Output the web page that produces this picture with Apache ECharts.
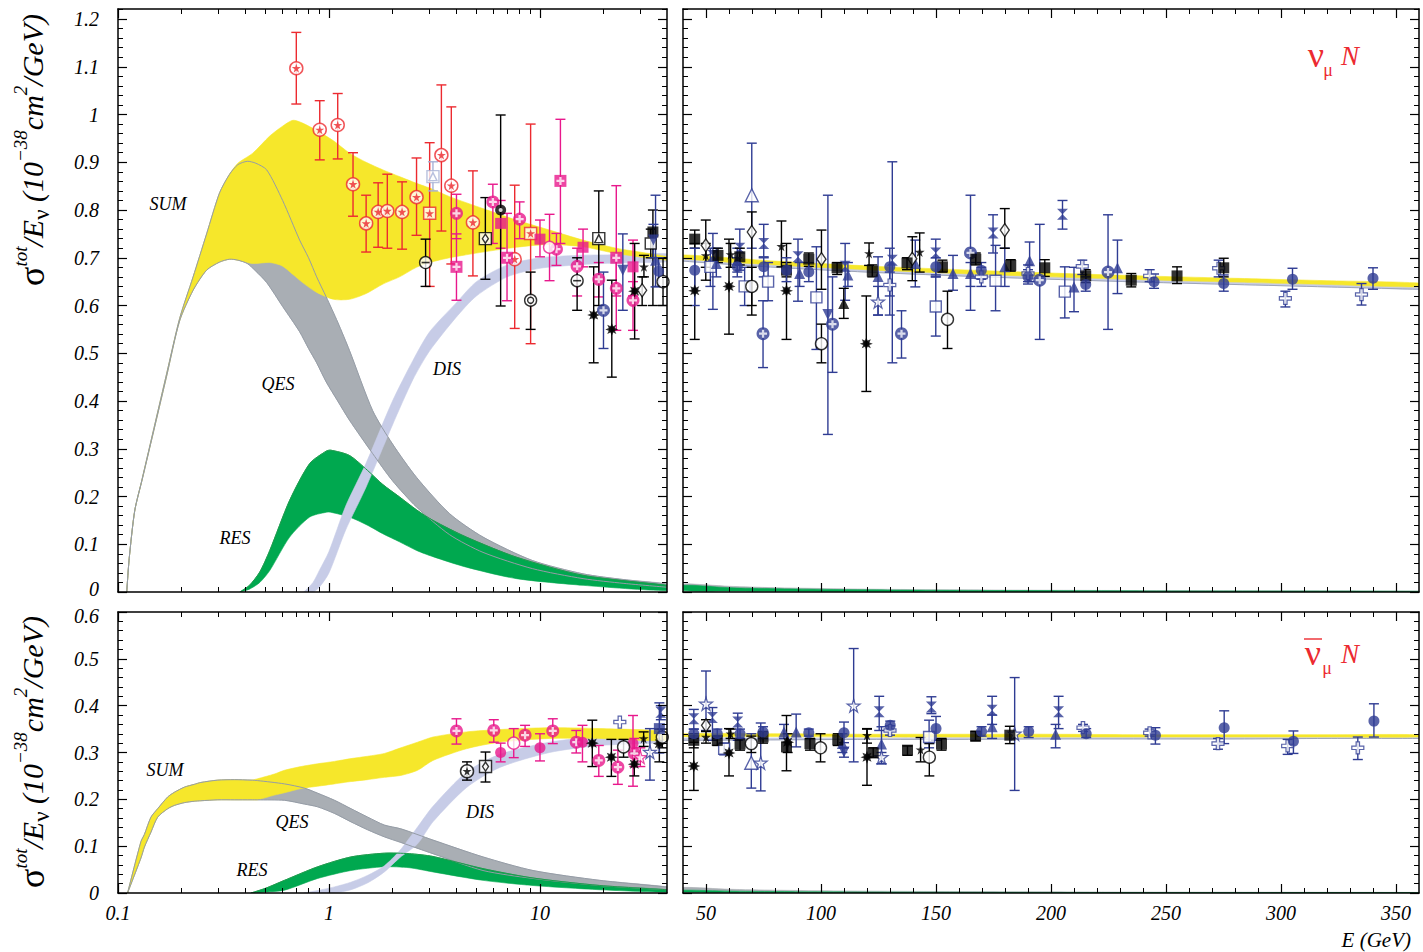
<!DOCTYPE html>
<html><head><meta charset="utf-8">
<script src="https://cdn.jsdelivr.net/npm/echarts@6/dist/echarts.min.js"></script>
<style>html,body{margin:0;padding:0;background:#fff}#c{width:1423px;height:952px}</style>
</head><body><div id="c"></div>
<script>
// ---------------- tick values ----------------
const logMajor = [0.1, 1, 10];
const logMinor = [0.2,0.3,0.4,0.5,0.6,0.7,0.8,0.9,2,3,4,5,6,7,8,9,20,30];
const linMajor = [50,100,150,200,250,300,350];
const linMinor = [60,70,80,90,110,120,130,140,160,170,180,190,210,220,230,240,260,270,280,290,310,320,330,340];
const yTopMajor = [0,0.1,0.2,0.3,0.4,0.5,0.6,0.7,0.8,0.9,1,1.1,1.2];
const yBotMajor = [0,0.1,0.2,0.3,0.4,0.5,0.6];
const yTopMinor = []; for (let i = 1; i <= 61; i++) if (i % 5) yTopMinor.push(+(i*0.02).toFixed(2));
const yBotMinor = []; for (let i = 1; i <= 29; i++) if (i % 5) yBotMinor.push(+(i*0.02).toFixed(2));

// ---------------- theory bands: neutrino, low energy (log axis) ----------------
const qesNuE  = [0.11,0.113,0.12,0.13,0.15,0.17,0.196,0.227,0.263,0.303,0.338,0.37,0.41,0.45,0.507,0.603,0.726,0.8,0.874,0.97,1.1,1.25,1.61,2.0,2.6,3.73,5.37,9.2,16,25,40];
const qesNuHi = [0,0.07,0.17,0.236,0.354,0.457,0.573,0.66,0.75,0.836,0.875,0.895,0.902,0.898,0.884,0.82,0.737,0.70,0.66,0.618,0.565,0.506,0.38,0.31,0.24,0.164,0.115,0.066,0.038,0.026,0.017];
const qesNuLo = [0,0.07,0.17,0.234,0.35,0.452,0.568,0.632,0.674,0.691,0.697,0.695,0.688,0.672,0.648,0.598,0.545,0.51,0.48,0.44,0.40,0.36,0.29,0.233,0.178,0.12,0.083,0.049,0.028,0.018,0.010];
const sumNuE  = [0.11,0.113,0.12,0.13,0.15,0.17,0.196,0.227,0.263,0.303,0.338,0.37,0.435,0.524,0.6,0.675,0.75,0.871,1.05,1.253,1.5,1.803,2.16,2.596,3.0,3.73,5.37,7.73,11.1,16,23,40];
const sumNuHi = [0,0.07,0.17,0.236,0.354,0.457,0.573,0.66,0.75,0.836,0.875,0.898,0.919,0.955,0.975,0.988,0.982,0.967,0.945,0.919,0.90,0.884,0.87,0.856,0.846,0.828,0.803,0.779,0.758,0.737,0.72,0.702];
const sumNuLo = [0,0.07,0.17,0.234,0.35,0.452,0.568,0.632,0.674,0.691,0.697,0.695,0.688,0.69,0.683,0.665,0.648,0.628,0.613,0.613,0.625,0.645,0.66,0.68,0.69,0.70,0.712,0.722,0.728,0.723,0.709,0.695];
const resNuE  = [0.378,0.42,0.47,0.524,0.651,0.81,0.97,1.02,1.25,1.52,1.8,2.16,2.6,3.11,4.48,7.73,16,40];
const resNuHi = [0,0.014,0.042,0.087,0.192,0.269,0.295,0.297,0.286,0.255,0.225,0.199,0.172,0.15,0.115,0.073,0.035,0.014];
const resNuLo = [0,0.006,0.02,0.045,0.115,0.157,0.167,0.167,0.157,0.14,0.122,0.105,0.087,0.074,0.052,0.028,0.014,0.003];
const disNuE  = [0.76,0.84,0.9,1.0,1.2,1.5,2.0,2.5,3.0,4.0,5.0,7.0,10,15,20,30,40];
const disNuHi = [0,0.02,0.045,0.085,0.18,0.27,0.40,0.485,0.545,0.605,0.65,0.685,0.70,0.705,0.706,0.707,0.708];
const disNuLo = [0,0,0.01,0.04,0.13,0.22,0.35,0.445,0.505,0.575,0.62,0.66,0.678,0.685,0.688,0.69,0.692];

// ---------------- theory bands: antineutrino, low energy ----------------
const qesAnE  = [0.111,0.1285,0.1334,0.1433,0.1542,0.172,0.185,0.2064,0.23,0.247,0.297,0.356,0.427,0.459,0.615,0.764,0.884,1.061,1.271,1.525,1.83,2.19,3.11,5.37,9.27,19.2,40];
const qesAnHi = [0,0.11,0.125,0.162,0.18,0.205,0.215,0.226,0.232,0.236,0.241,0.242,0.241,0.24,0.233,0.224,0.213,0.198,0.18,0.162,0.145,0.137,0.113,0.077,0.048,0.027,0.013];
const qesAnLo = [0,0.075,0.098,0.13,0.162,0.18,0.187,0.193,0.196,0.197,0.199,0.199,0.199,0.199,0.198,0.19,0.184,0.17,0.152,0.135,0.12,0.108,0.084,0.048,0.031,0.016,0.007];
const sumAnE  = [0.111,0.1285,0.1334,0.1433,0.1542,0.172,0.185,0.2064,0.23,0.247,0.297,0.356,0.427,0.459,0.551,0.615,0.737,0.884,1.061,1.271,1.525,1.83,2.19,2.63,3.11,4.48,6.44,11.1,19.2,40];
const sumAnHi = [0,0.11,0.125,0.162,0.18,0.205,0.215,0.226,0.232,0.236,0.241,0.242,0.241,0.244,0.254,0.262,0.27,0.276,0.281,0.287,0.292,0.298,0.31,0.322,0.333,0.344,0.349,0.353,0.351,0.344];
const sumAnLo = [0,0.075,0.098,0.13,0.162,0.18,0.187,0.193,0.196,0.197,0.199,0.199,0.199,0.199,0.209,0.214,0.223,0.228,0.233,0.238,0.242,0.247,0.251,0.262,0.283,0.308,0.322,0.33,0.33,0.326];
const resAnE  = [0.427,0.5,0.615,0.884,1.271,1.83,2.4,3.11,5.37,9.27,19.2,40];
const resAnHi = [0,0.01,0.027,0.056,0.077,0.085,0.084,0.078,0.052,0.032,0.016,0.007];
const resAnLo = [0,0.002,0.006,0.031,0.048,0.056,0.054,0.045,0.027,0.016,0.007,0.002];
const disAnE  = [0.76,0.9,1.06,1.27,1.53,1.83,2.16,2.63,3.11,4.48,6.44,11.1,19.2,40];
const disAnHi = [0,0.006,0.013,0.023,0.038,0.058,0.09,0.141,0.185,0.258,0.296,0.322,0.334,0.34];
const disAnLo = [0,0,0,0.007,0.022,0.045,0.075,0.105,0.152,0.225,0.268,0.3,0.315,0.323];

// ---------------- theory bands: high energy (linear axis) ----------------
const hiE  = [40,80,120,160,200,240,280,320,360];
const sumNuRHi = [0.706,0.693,0.683,0.675,0.668,0.662,0.657,0.652,0.647];
const sumNuRLo = [0.698,0.685,0.675,0.667,0.660,0.654,0.649,0.644,0.639];
const disNuRHi = [0.699,0.686,0.676,0.668,0.661,0.655,0.650,0.645,0.640];
const disNuRLo = [0.693,0.680,0.670,0.662,0.655,0.649,0.644,0.639,0.634];
const sumAnRHi = [0.340,0.340,0.339,0.339,0.339,0.338,0.338,0.338,0.338];
const sumAnRLo = [0.334,0.334,0.333,0.333,0.333,0.333,0.333,0.333,0.333];
const disAnRHi = [0.331,0.331,0.331,0.332,0.332,0.332,0.332,0.332,0.332];
const disAnRLo = [0.326,0.327,0.328,0.328,0.329,0.329,0.329,0.330,0.330];
const tailE = [40,60,80,120,160,240,360];
const qesNuRHi = [0.017,0.012,0.009,0.006,0.0045,0.003,0.002];
const qesNuRLo = [0.010,0.007,0.005,0.0033,0.0025,0.0016,0.001];
const resNuRHi = [0.014,0.009,0.007,0.0045,0.0034,0.0022,0.0015];
const resNuRLo = [0.003,0.002,0.0015,0.001,0.0007,0.0005,0.0003];
const qesAnRHi = [0.012,0.008,0.006,0.004,0.003,0.002,0.0013];
const qesAnRLo = [0.006,0.004,0.003,0.002,0.0015,0.001,0.0006];
const resAnRHi = [0.006,0.004,0.003,0.002,0.0015,0.001,0.0006];
const resAnRLo = [0.002,0.0013,0.001,0.0007,0.0005,0.0003,0.0002];

// ---------------- measurements [E, value, low, high] ----------------
// neutrino, low E
const nuLoRedCircStar = [[0.70,1.097,1.022,1.172],[0.904,0.968,0.905,1.029],[1.10,0.978,0.907,1.044],[1.30,0.854,0.787,0.92],[1.50,0.772,0.712,0.831],[1.71,0.796,0.722,0.857],[1.89,0.798,0.72,0.875],[2.22,0.796,0.718,0.859],[2.60,0.827,0.747,0.909],[3.41,0.915,0.756,1.062],[3.80,0.851,0.687,1.016],[4.81,0.774,0.662,0.882],[7.59,0.697,0.552,0.852]];
const nuLoRedSqStar = [[3.0,0.793,0.64,0.941],[9.03,0.751,0.52,0.98]];
const nuLoPinkCircCross = [[4.02,0.793,0.74,0.833],[5.98,0.817,0.73,0.854],[8.01,0.781,0.74,0.817],[11.97,0.718,0.684,0.751],[15.0,0.682,0.62,0.72],[19.0,0.655,0.618,0.69],[23.0,0.636,0.548,0.70],[27.6,0.611,0.548,0.65]];
const nuLoPinkSqCross = [[4.02,0.681,0.611,0.75],[6.98,0.70,0.61,0.793],[12.5,0.861,0.73,0.99],[23.0,0.70,0.62,0.851]];
const nuLoPinkFilled = [[6.51,0.772,0.72,0.82],[10.0,0.739,0.702,0.779],[16.0,0.722,0.681,0.76],[27.6,0.681,0.62,0.737]];
const nuLoPinkOpenCirc = [[11.1,0.722,0.652,0.791]];
const nuLoBlackCircMinus = [[2.87,0.69,0.64,0.739],[15.0,0.652,0.59,0.70]];
const nuLoBlackSqDia = [[5.51,0.74,0.655,0.826]];
const nuLoBlackCircDot = [[6.51,0.80,0.599,0.999]];
const nuLoBlackDblCirc = [[9.03,0.611,0.55,0.67]];
const nuLoBlackTriSq = [[19.0,0.74,0.60,0.84]];
const nuLoBlackAst = [[17.97,0.58,0.48,0.681],[21.9,0.55,0.45,0.653],[28.1,0.63,0.53,0.73]];
const nuLoBlackOpenDia = [[30.5,0.632,0.6,0.66]];
const nuLoBlackStar = [[31.1,0.681,0.66,0.705]];
const nuLoBlackFilledSq = [[34.3,0.754,0.60,0.80]];
const nuLoBlackOpenSq = [[33.5,0.73,0.70,0.76]];
const nuLoBlackOpenCirc = [[38.3,0.65,0.6,0.70]];
const nuLoBlueCircCross = [[20.0,0.59,0.51,0.67]];
const nuLoBlueTriDown = [[24.7,0.674,0.59,0.75],[34.5,0.737,0.70,0.77]];
const nuLoBlueTri = [[35.3,0.695,0.639,0.831]];
const nuLoBlueFilledCirc = [[36.5,0.672,0.64,0.70]];
const nuLoSlateSq = [[3.11,0.87,0.84,0.901]];
// neutrino, high E
const nuHiBlackFilledSq = [[45.1,0.739,0.72,0.758],[55.2,0.705,0.69,0.72],[64.7,0.702,0.685,0.72],[85,0.674,0.66,0.69],[94.7,0.697,0.682,0.71],[107,0.679,0.665,0.69],[122.3,0.672,0.66,0.685],[137.4,0.689,0.675,0.70],[152.8,0.681,0.67,0.695],[167.3,0.697,0.685,0.71],[182.5,0.684,0.672,0.696],[197.3,0.679,0.661,0.696],[215.1,0.662,0.648,0.675],[234.9,0.653,0.639,0.667],[254.8,0.662,0.646,0.681],[275.1,0.679,0.66,0.699]];
const nuHiBlackAst = [[45.1,0.631,0.529,0.73],[60,0.64,0.54,0.739],[85,0.631,0.529,0.73],[119.7,0.52,0.42,0.62]];
const nuHiBlackOpenDia = [[49.9,0.726,0.653,0.779],[69.9,0.754,0.58,0.796],[100.2,0.697,0.634,0.758],[139.7,0.698,0.652,0.744],[179.9,0.758,0.72,0.803]];
const nuHiBlackStar = [[49.9,0.705,0.68,0.73],[60.7,0.707,0.68,0.73],[82.8,0.724,0.681,0.777],[120.9,0.709,0.684,0.731],[142.9,0.712,0.67,0.752]];
const nuHiBlackOpenCirc = [[69.9,0.64,0.60,0.68],[100.2,0.52,0.48,0.561],[155,0.571,0.51,0.63]];
const nuHiBlackTri = [[109.9,0.604,0.573,0.636]];
const nuHiBlueFilledCirc = [[45.1,0.674,0.60,0.72],[63.6,0.681,0.66,0.70],[75.1,0.681,0.66,0.70],[85,0.674,0.65,0.70],[94.7,0.67,0.65,0.69],[129.9,0.681,0.58,0.72],[149.9,0.681,0.66,0.70],[169.7,0.674,0.655,0.69],[190,0.66,0.645,0.675],[215.1,0.644,0.63,0.66],[244.8,0.65,0.636,0.666],[275.1,0.646,0.63,0.664],[305,0.655,0.634,0.678],[340,0.657,0.634,0.679]];
const nuHiBlueHour = [[53,0.705,0.592,0.751],[64.7,0.72,0.674,0.76],[75.1,0.73,0.702,0.77],[90,0.702,0.609,0.739],[110.5,0.682,0.611,0.73],[131,0.695,0.48,0.901],[149.9,0.71,0.664,0.739],[174.8,0.752,0.71,0.79],[205,0.791,0.76,0.82]];
const nuHiBlueTri = [[54.5,0.688,0.66,0.72],[63.6,0.695,0.67,0.72],[90.7,0.667,0.64,0.69],[111.7,0.664,0.64,0.69],[124.8,0.661,0.58,0.702],[141,0.688,0.639,0.737],[157.4,0.667,0.632,0.705],[165,0.667,0.64,0.69],[179.9,0.681,0.64,0.72],[190.7,0.694,0.65,0.733],[210,0.639,0.587,0.68],[228.9,0.679,0.625,0.737]];
const nuHiBlueOpenTri = [[69.9,0.831,0.72,0.94]];
const nuHiBlueOpenSq = [[51.9,0.681,0.64,0.72],[66.8,0.64,0.60,0.68],[77,0.65,0.61,0.69],[98,0.617,0.508,0.723],[149.9,0.598,0.536,0.66],[175.9,0.652,0.589,0.726],[206,0.629,0.574,0.681]];
const nuHiBlueCircCross = [[74.8,0.541,0.47,0.61],[105,0.561,0.46,0.66],[135,0.541,0.49,0.589],[165,0.71,0.59,0.831],[195.1,0.653,0.529,0.77],[224.8,0.67,0.55,0.79]];
const nuHiBlueTriDown = [[103,0.581,0.33,0.831]];
const nuHiBlueOpenStar = [[124.8,0.608,0.58,0.64]];
const nuHiBlueOpenCross = [[129.9,0.643,0.62,0.67],[169.7,0.66,0.64,0.68],[190,0.667,0.65,0.685],[213.6,0.682,0.665,0.695],[242.9,0.662,0.65,0.675],[272.9,0.678,0.66,0.695],[301.9,0.615,0.597,0.63],[335,0.623,0.601,0.646]];
// antineutrino, low E
const anLoPinkCircCross = [[4.02,0.346,0.318,0.372],[6.04,0.347,0.322,0.37],[8.5,0.337,0.313,0.358],[11.5,0.346,0.319,0.372],[14.86,0.322,0.299,0.347],[19.0,0.283,0.249,0.315],[23.4,0.269,0.232,0.305],[28,0.298,0.27,0.33]];
const anLoPinkFilled = [[6.51,0.30,0.28,0.32],[10.0,0.31,0.282,0.34],[15.9,0.322,0.28,0.358],[27.6,0.319,0.228,0.379]];
const anLoPinkOpenCirc = [[7.51,0.32,0.289,0.351]];
const anLoPinkOpenStar = [[29.9,0.29,0.27,0.31]];
const anLoBlackCircStar = [[4.51,0.26,0.241,0.28]];
const anLoBlackSqDia = [[5.52,0.27,0.237,0.301]];
const anLoBlackAst = [[17.7,0.32,0.27,0.369],[21.8,0.29,0.249,0.328],[28,0.275,0.25,0.30],[36.8,0.319,0.28,0.35]];
const anLoBlackOpenCirc = [[24.9,0.312,0.29,0.328],[38,0.333,0.31,0.35]];
const anLoBlackStar = [[31,0.33,0.313,0.344]];
const anLoBlueOpenStar = [[33.2,0.301,0.241,0.351]];
const anLoBlueOpenCross = [[23.9,0.365,0.365,0.365]];
const anLoBlueFilledSq = [[36.8,0.351,0.299,0.406]];
const anLoBlueHour = [[37.4,0.386,0.37,0.40]];
// antineutrino, high E
const anHiBlueHour = [[44.7,0.372,0.35,0.392],[52.8,0.375,0.326,0.396],[63.8,0.365,0.326,0.384],[125.3,0.387,0.347,0.42],[148,0.397,0.383,0.419],[174.4,0.39,0.36,0.42],[203.3,0.387,0.351,0.42]];
const anHiBlueFilledCirc = [[44.7,0.34,0.33,0.35],[54.9,0.34,0.33,0.35],[64.8,0.34,0.33,0.35],[74.8,0.344,0.33,0.355],[94.7,0.342,0.335,0.35],[110,0.342,0.321,0.365],[130.1,0.358,0.347,0.367],[150,0.351,0.326,0.377],[169.8,0.345,0.335,0.355],[190.3,0.345,0.332,0.355],[215.3,0.34,0.332,0.351],[245.4,0.337,0.318,0.353],[275.3,0.353,0.319,0.389],[305.4,0.324,0.298,0.346],[340.4,0.367,0.333,0.404]];
const anHiBlackFilledSq = [[44.7,0.326,0.31,0.34],[54.9,0.326,0.315,0.335],[64.8,0.318,0.305,0.33],[74.8,0.333,0.32,0.345],[85,0.312,0.261,0.379],[95.2,0.319,0.305,0.33],[107.3,0.327,0.315,0.34],[122.7,0.299,0.29,0.31],[137.6,0.305,0.294,0.314],[152.4,0.318,0.305,0.33],[167.2,0.335,0.325,0.345],[182.1,0.337,0.319,0.356]];
const anHiBlackAst = [[44.7,0.271,0.219,0.322],[60,0.299,0.25,0.351],[85.5,0.322,0.30,0.34],[120,0.29,0.23,0.351]];
const anHiBlackStar = [[50,0.333,0.32,0.345],[60.7,0.34,0.33,0.35],[120,0.337,0.32,0.35],[143.3,0.306,0.28,0.332]];
const anHiBlackOpenDia = [[50,0.358,0.345,0.37]];
const anHiBlackOpenCirc = [[69.7,0.319,0.30,0.335],[99.8,0.31,0.28,0.34],[147.1,0.29,0.25,0.319]];
const anHiBlueOpenStar = [[50,0.404,0.347,0.474],[73.8,0.278,0.218,0.363],[114.2,0.40,0.28,0.522],[126.3,0.29,0.276,0.30],[184.2,0.34,0.219,0.46]];
const anHiBlueOpenSq = [[57.9,0.308,0.295,0.32],[147,0.333,0.31,0.369]];
const anHiBlueOpenTri = [[69.7,0.278,0.224,0.34]];
const anHiBlueTri = [[83.9,0.344,0.33,0.36],[89.2,0.344,0.312,0.382],[109.3,0.319,0.30,0.34],[126.3,0.318,0.276,0.355],[174.4,0.355,0.33,0.38],[202,0.339,0.31,0.36]];
const anHiBlueTriDown = [[110,0.301,0.29,0.31]];
const anHiBlueOpenCross = [[130,0.347,0.337,0.357],[213.9,0.353,0.345,0.36],[242.9,0.342,0.335,0.35],[272.6,0.319,0.307,0.33],[302.9,0.314,0.296,0.328],[333.4,0.31,0.285,0.333]];

// ---------------- styling ----------------
const FONT = 'Liberation Serif';
const COL = {red:'#ec2a30', pink:'#e8188c', black:'#000000', blue:'#2f3c93', slate:'#a7b1d6'};
const BAND = {sum:'#f6e72b', qes:'#a9aeb4', res:'#00a84f', dis:'#c7cce7'};
const EDGE = {qes:'#959ca6', res:'#1f9a4c'};
const P = {
  star:'path://M50,2 L61,37 L98,37 L68,59 L79,95 L50,73 L21,95 L32,59 L2,37 L39,37 Z',
  plus:'path://M36,0 H64 V36 H100 V64 H64 V100 H36 V64 H0 V36 H36 Z',
  hour:'path://M0,0 H100 L50,50 L100,100 H0 L50,50 Z',
  ast:'path://M50,0 L60,26 L85,15 L74,40 L100,50 L74,60 L85,85 L60,74 L50,100 L40,74 L15,85 L26,60 L0,50 L26,40 L15,15 L40,26 Z'
};
const op = (c, w) => ({color:'#fff', borderColor:c, borderWidth:w || 1.4});
const LAYERS = {
  circStar: c => [{symbol:'circle', symbolSize:13, itemStyle:op(c, 1.5)}, {symbol:P.star, symbolSize:9, itemStyle:{color:c}}],
  sqStar:   c => [{symbol:'rect', symbolSize:12, itemStyle:op(c, 1.5)}, {symbol:P.star, symbolSize:9, itemStyle:{color:c}}],
  circCross:c => [{symbol:'circle', symbolSize:13, itemStyle:{color:c}}, {symbol:P.plus, symbolSize:8, itemStyle:{color:'#fff'}}],
  sqCross:  c => [{symbol:'rect', symbolSize:12, itemStyle:{color:c}}, {symbol:P.plus, symbolSize:8, itemStyle:{color:'#fff'}}],
  fSq:      c => [{symbol:'rect', symbolSize:11, itemStyle:{color:c}}],
  fCirc:    c => [{symbol:'circle', symbolSize:11, itemStyle:{color:c}}],
  oCirc:    c => [{symbol:'circle', symbolSize:12, itemStyle:op(c)}],
  oSq:      c => [{symbol:'rect', symbolSize:11, itemStyle:op(c)}],
  oDia:     c => [{symbol:'diamond', symbolSize:[9,13], itemStyle:op(c)}],
  star:     c => [{symbol:P.star, symbolSize:10, itemStyle:{color:c}}],
  ast:      c => [{symbol:P.ast, symbolSize:13, itemStyle:{color:c}}, {symbol:'circle', symbolSize:6, itemStyle:{color:c}}],
  hour:     c => [{symbol:P.hour, symbolSize:11, itemStyle:{color:c}}],
  tri:      c => [{symbol:'triangle', symbolSize:11, itemStyle:{color:c}}],
  oTri:     c => [{symbol:'triangle', symbolSize:13, itemStyle:op(c)}],
  triDown:  c => [{symbol:'triangle', symbolSize:11, symbolRotate:180, itemStyle:{color:c}}],
  oStar:    c => [{symbol:P.star, symbolSize:13, itemStyle:op(c, 1.2)}],
  oCross:   c => [{symbol:P.plus, symbolSize:12, itemStyle:op(c, 1.2)}],
  circMinus:c => [{symbol:'circle', symbolSize:12, itemStyle:op(c)}, {symbol:'rect', symbolSize:[8,1.6], itemStyle:{color:c}}],
  dblCirc:  c => [{symbol:'circle', symbolSize:12, itemStyle:op(c)}, {symbol:'circle', symbolSize:6, itemStyle:op(c)}],
  sqDia:    c => [{symbol:'rect', symbolSize:12, itemStyle:op(c)}, {symbol:'diamond', symbolSize:[6,9], itemStyle:op(c)}],
  triSq:    c => [{symbol:'rect', symbolSize:12, itemStyle:op(c)}, {symbol:'triangle', symbolSize:8, itemStyle:op(c)}],
  circDot:  c => [{symbol:'circle', symbolSize:11, itemStyle:{color:c}}, {symbol:'circle', symbolSize:4, itemStyle:{color:'#fff'}}]
};

// ---------------- grids & axes ----------------
const GRIDS = [
  {left:118, top:9,   width:549, height:583},
  {left:683, top:9,   width:736, height:583},
  {left:118, top:612, width:549, height:281},
  {left:683, top:612, width:736, height:281}
];
const lineSt = {color:'#000', width:1.5};
const labSt = {fontFamily:FONT, fontStyle:'italic', fontSize:20, color:'#000'};
// rich styles used to nudge the two labels where the top and bottom panels meet
const edgeRich = {
  up:{fontFamily:FONT, fontStyle:'italic', fontSize:20, color:'#000', padding:[0,0,7,0]},
  dn:{fontFamily:FONT, fontStyle:'italic', fontSize:20, color:'#000', padding:[7,0,0,0]}
};
const xAxes = [], yAxes = [], series = [];
GRIDS.forEach((g, gi) => {
  const isLog = gi % 2 === 0, isTop = gi < 2;
  const xr = isLog ? {type:'log', logBase:10, min:0.1, max:40} : {type:'value', min:40, max:360};
  const xMaj = isLog ? logMajor : linMajor, xMin = isLog ? logMinor : linMinor;
  ['bottom','top'].forEach(pos => {
    xAxes.push(Object.assign({gridIndex:gi, position:pos, z:10,
      axisLine:{show:true, onZero:false, lineStyle:lineSt},
      axisTick:{show:true, inside:true, length:9, customValues:xMaj, lineStyle:{color:'#000', width:1.2}},
      axisLabel:Object.assign({show: pos==='bottom' && !isTop, customValues:xMaj, margin:10,
        formatter: v => (v < 1 ? (+v).toFixed(1) : String(Math.round(v)))}, labSt),
      splitLine:{show:false}}, xr));
    xAxes.push(Object.assign({gridIndex:gi, position:pos, z:10,
      axisLine:{show:false, onZero:false},
      axisTick:{show:true, inside:true, length:5, customValues:xMin, lineStyle:{color:'#000', width:1}},
      axisLabel:{show:false}, splitLine:{show:false}}, xr));
  });
  const yr = {type:'value', min:0, max: isTop ? 1.221 : 0.6};
  const yMaj = isTop ? yTopMajor : yBotMajor, yMin = isTop ? yTopMinor : yBotMinor;
  ['left','right'].forEach(pos => {
    yAxes.push(Object.assign({gridIndex:gi, position:pos, z:10,
      axisLine:{show:true, onZero:false, lineStyle:lineSt},
      axisTick:{show:true, inside:true, length:9, customValues:yMaj, lineStyle:{color:'#000', width:1.2}},
      axisLabel:Object.assign({show: pos==='left' && isLog, customValues:yMaj, margin:19, rich:edgeRich,
        formatter: v => {
          const s = String(Math.round(v*10)/10);
          if (isTop && v === 0) return '{up|' + s + '}';
          if (!isTop && Math.abs(v - 0.6) < 1e-9) return '{dn|' + s + '}';
          return s;
        }}, labSt),
      splitLine:{show:false}}, yr));
    yAxes.push(Object.assign({gridIndex:gi, position:pos, z:10,
      axisLine:{show:false, onZero:false},
      axisTick:{show:true, inside:true, length:5, customValues:yMin, lineStyle:{color:'#000', width:1}},
      axisLabel:{show:false}, splitLine:{show:false}}, yr));
  });
});

// ---------------- series builders ----------------
function addBand(gi, E, lo, hi, fill) {
  const pts = E.map((e, i) => [e, lo[i], hi[i]]);
  series.push({type:'custom', xAxisIndex:gi*4, yAxisIndex:gi*4, z:2, silent:true, animation:false, clip:true,
    data:pts, encode:{x:0, y:[1,2]},
    renderItem(params, api) {
      if (params.dataIndex !== 0) return null;
      const up = pts.map(p => api.coord([p[0], p[2]]));
      const dn = pts.map(p => api.coord([p[0], p[1]]));
      const poly = up.concat(dn.slice().reverse());
      return {type:'polygon', shape:{points:poly, smooth:0.25}, style:{fill:fill, stroke:fill, lineWidth:0.6}};
    }});
}
function addEdge(gi, E, V, color) {
  const pts = E.map((e, i) => [e, V[i]]);
  series.push({type:'custom', xAxisIndex:gi*4, yAxisIndex:gi*4, z:3, silent:true, animation:false, clip:true,
    data:pts, encode:{x:0, y:1},
    renderItem(params, api) {
      if (params.dataIndex !== 0) return null;
      return {type:'polyline', shape:{points:pts.map(p => api.coord(p)), smooth:0.25}, style:{stroke:color, fill:'none', lineWidth:1}};
    }});
}
function addPoints(gi, data, kind, color) {
  const xi = gi*4, yi = gi*4;
  series.push({type:'custom', xAxisIndex:xi, yAxisIndex:yi, z:4, silent:true, animation:false, clip:true,
    data:data, encode:{x:0, y:[1,2,3]},
    renderItem(params, api) {
      const x = api.value(0);
      const a = api.coord([x, api.value(2)]), b = api.coord([x, api.value(3)]);
      if (Math.abs(a[1] - b[1]) < 1) return null;
      const st = {stroke:color, lineWidth:1.4};
      return {type:'group', children:[
        {type:'line', shape:{x1:a[0], y1:a[1], x2:b[0], y2:b[1]}, style:st},
        {type:'line', shape:{x1:a[0]-5, y1:a[1], x2:a[0]+5, y2:a[1]}, style:st},
        {type:'line', shape:{x1:b[0]-5, y1:b[1], x2:b[0]+5, y2:b[1]}, style:st}]};
    }});
  LAYERS[kind](color).forEach(L => series.push(Object.assign({type:'scatter', xAxisIndex:xi, yAxisIndex:yi,
    z:5, silent:true, animation:false, data:data.map(d => [d[0], d[1]])}, L)));
}

// bands (QES, RES, DIS, SUM), then edges
addBand(0, qesNuE, qesNuLo, qesNuHi, BAND.qes);
addBand(0, resNuE, resNuLo, resNuHi, BAND.res);
addBand(0, disNuE, disNuLo, disNuHi, BAND.dis);
addBand(0, sumNuE, sumNuLo, sumNuHi, BAND.sum);
addEdge(0, qesNuE, qesNuHi, EDGE.qes);
addEdge(0, qesNuE, qesNuLo, EDGE.qes);
addEdge(0, resNuE, resNuHi, EDGE.res);

addBand(1, tailE, qesNuRLo, qesNuRHi, BAND.qes);
addBand(1, tailE, resNuRLo, resNuRHi, BAND.res);
addBand(1, hiE, disNuRLo, disNuRHi, BAND.dis);
addBand(1, hiE, sumNuRLo, sumNuRHi, BAND.sum);
addEdge(1, hiE, disNuRLo, '#9ea5b8');

addBand(2, qesAnE, qesAnLo, qesAnHi, BAND.qes);
addBand(2, resAnE, resAnLo, resAnHi, BAND.res);
addBand(2, disAnE, disAnLo, disAnHi, BAND.dis);
addBand(2, sumAnE, sumAnLo, sumAnHi, BAND.sum);
addEdge(2, qesAnE, qesAnHi, EDGE.qes);
addEdge(2, qesAnE, qesAnLo, EDGE.qes);
addEdge(2, resAnE, resAnHi, EDGE.res);

addBand(3, tailE, qesAnRLo, qesAnRHi, BAND.qes);
addBand(3, tailE, resAnRLo, resAnRHi, BAND.res);
addBand(3, hiE, disAnRLo, disAnRHi, BAND.dis);
addBand(3, hiE, sumAnRLo, sumAnRHi, BAND.sum);
addEdge(3, hiE, disAnRLo, '#9ea5b8');

// points
addPoints(0, nuLoRedCircStar, 'circStar', COL.red);
addPoints(0, nuLoRedSqStar, 'sqStar', COL.red);
addPoints(0, nuLoSlateSq, 'triSq', COL.slate);
addPoints(0, nuLoPinkCircCross, 'circCross', COL.pink);
addPoints(0, nuLoPinkSqCross, 'sqCross', COL.pink);
addPoints(0, nuLoPinkFilled, 'fSq', COL.pink);
addPoints(0, nuLoPinkOpenCirc, 'oCirc', COL.pink);
addPoints(0, nuLoBlackCircMinus, 'circMinus', COL.black);
addPoints(0, nuLoBlackSqDia, 'sqDia', COL.black);
addPoints(0, nuLoBlackCircDot, 'circDot', COL.black);
addPoints(0, nuLoBlackDblCirc, 'dblCirc', COL.black);
addPoints(0, nuLoBlackTriSq, 'triSq', COL.black);
addPoints(0, nuLoBlackAst, 'ast', COL.black);
addPoints(0, nuLoBlackOpenDia, 'oDia', COL.black);
addPoints(0, nuLoBlackStar, 'star', COL.black);
addPoints(0, nuLoBlackFilledSq, 'fSq', COL.black);
addPoints(0, nuLoBlackOpenSq, 'oSq', COL.black);
addPoints(0, nuLoBlackOpenCirc, 'oCirc', COL.black);
addPoints(0, nuLoBlueCircCross, 'circCross', COL.blue);
addPoints(0, nuLoBlueTriDown, 'triDown', COL.blue);
addPoints(0, nuLoBlueTri, 'tri', COL.blue);
addPoints(0, nuLoBlueFilledCirc, 'fCirc', COL.blue);

addPoints(1, nuHiBlueOpenSq, 'oSq', COL.blue);
addPoints(1, nuHiBlueCircCross, 'circCross', COL.blue);
addPoints(1, nuHiBlueTriDown, 'triDown', COL.blue);
addPoints(1, nuHiBlueOpenStar, 'oStar', COL.blue);
addPoints(1, nuHiBlueOpenCross, 'oCross', COL.blue);
addPoints(1, nuHiBlueOpenTri, 'oTri', COL.blue);
addPoints(1, nuHiBlueTri, 'tri', COL.blue);
addPoints(1, nuHiBlueHour, 'hour', COL.blue);
addPoints(1, nuHiBlackAst, 'ast', COL.black);
addPoints(1, nuHiBlackOpenDia, 'oDia', COL.black);
addPoints(1, nuHiBlackStar, 'star', COL.black);
addPoints(1, nuHiBlackOpenCirc, 'oCirc', COL.black);
addPoints(1, nuHiBlackTri, 'tri', COL.black);
addPoints(1, nuHiBlackFilledSq, 'fSq', COL.black);
addPoints(1, nuHiBlueFilledCirc, 'fCirc', COL.blue);

addPoints(2, anLoPinkCircCross, 'circCross', COL.pink);
addPoints(2, anLoPinkFilled, 'fCirc', COL.pink);
addPoints(2, anLoPinkOpenCirc, 'oCirc', COL.pink);
addPoints(2, anLoPinkOpenStar, 'oStar', COL.pink);
addPoints(2, anLoBlackCircStar, 'circStar', COL.black);
addPoints(2, anLoBlackSqDia, 'sqDia', COL.black);
addPoints(2, anLoBlackAst, 'ast', COL.black);
addPoints(2, anLoBlackOpenCirc, 'oCirc', COL.black);
addPoints(2, anLoBlackStar, 'star', COL.black);
addPoints(2, anLoBlueOpenStar, 'oStar', COL.blue);
addPoints(2, anLoBlueOpenCross, 'oCross', COL.blue);
addPoints(2, anLoBlueFilledSq, 'fSq', COL.blue);
addPoints(2, anLoBlueHour, 'hour', COL.blue);

addPoints(3, anHiBlueOpenStar, 'oStar', COL.blue);
addPoints(3, anHiBlueOpenSq, 'oSq', COL.blue);
addPoints(3, anHiBlueOpenTri, 'oTri', COL.blue);
addPoints(3, anHiBlueOpenCross, 'oCross', COL.blue);
addPoints(3, anHiBlueTriDown, 'triDown', COL.blue);
addPoints(3, anHiBlueTri, 'tri', COL.blue);
addPoints(3, anHiBlueHour, 'hour', COL.blue);
addPoints(3, anHiBlackAst, 'ast', COL.black);
addPoints(3, anHiBlackStar, 'star', COL.black);
addPoints(3, anHiBlackOpenDia, 'oDia', COL.black);
addPoints(3, anHiBlackOpenCirc, 'oCirc', COL.black);
addPoints(3, anHiBlackFilledSq, 'fSq', COL.black);
addPoints(3, anHiBlueFilledCirc, 'fCirc', COL.blue);

// ---------------- text ----------------
const TITLE = '{s|σ}{sup|tot}{m|/E}{sub|ν}{m| (10}{sup|−38}{m|cm}{sup|2}{m|/GeV)}';
const TITLE_RICH = {
  s:{fontFamily:FONT, fontSize:36, lineHeight:42, color:'#000'},
  m:{fontFamily:FONT, fontStyle:'italic', fontSize:30, lineHeight:42, color:'#000'},
  sup:{fontFamily:FONT, fontStyle:'italic', fontSize:19, lineHeight:20, verticalAlign:'top', color:'#000'},
  sub:{fontFamily:FONT, fontSize:23, lineHeight:22, verticalAlign:'bottom', color:'#000'}
};
function tx(x, y, text, size, extra) {
  return {type:'text', x:x, y:y, silent:true, z:100,
    style:Object.assign({text:text, fontFamily:FONT, fontStyle:'italic', fontSize:size, fill:'#000',
      align:'center', verticalAlign:'middle', textAlign:'center', textVerticalAlign:'middle'}, extra || {})};
}
const graphic = [
  {type:'text', x:32, y:150, rotation:Math.PI/2, silent:true, z:100,
    style:{text:TITLE, rich:TITLE_RICH, align:'center', verticalAlign:'middle', textAlign:'center', textVerticalAlign:'middle'}},
  {type:'text', x:32, y:752, rotation:Math.PI/2, silent:true, z:100,
    style:{text:TITLE, rich:TITLE_RICH, align:'center', verticalAlign:'middle', textAlign:'center', textVerticalAlign:'middle'}},
  tx(168, 204, 'SUM', 18), tx(278, 384, 'QES', 18), tx(447, 369, 'DIS', 18), tx(235, 538, 'RES', 18),
  tx(165, 770, 'SUM', 18), tx(292, 822, 'QES', 18), tx(480, 812, 'DIS', 18), tx(252, 870, 'RES', 18),
  tx(1316, 55, 'ν', 36, {fontStyle:'normal', fill:COL.red}),
  tx(1328, 70, 'μ', 18, {fontStyle:'normal', fill:COL.red}),
  tx(1350, 56, 'N', 27, {fill:COL.red}),
  tx(1313, 653, 'ν', 36, {fontStyle:'normal', fill:COL.red}),
  tx(1327, 668, 'μ', 18, {fontStyle:'normal', fill:COL.red}),
  tx(1350, 654, 'N', 27, {fill:COL.red}),
  {type:'line', silent:true, z:100, shape:{x1:1304, y1:639, x2:1322, y2:639}, style:{stroke:COL.red, lineWidth:1.4}},
  tx(1411, 940, 'E (GeV)', 21, {align:'right', textAlign:'right'})
];

const chart = echarts.init(document.getElementById('c'), null, {renderer:'svg'});
chart.setOption({
  animation:false,
  backgroundColor:'#fff',
  grid:GRIDS,
  xAxis:xAxes,
  yAxis:yAxes,
  series:series,
  graphic:graphic
});
</script>
</body></html>
